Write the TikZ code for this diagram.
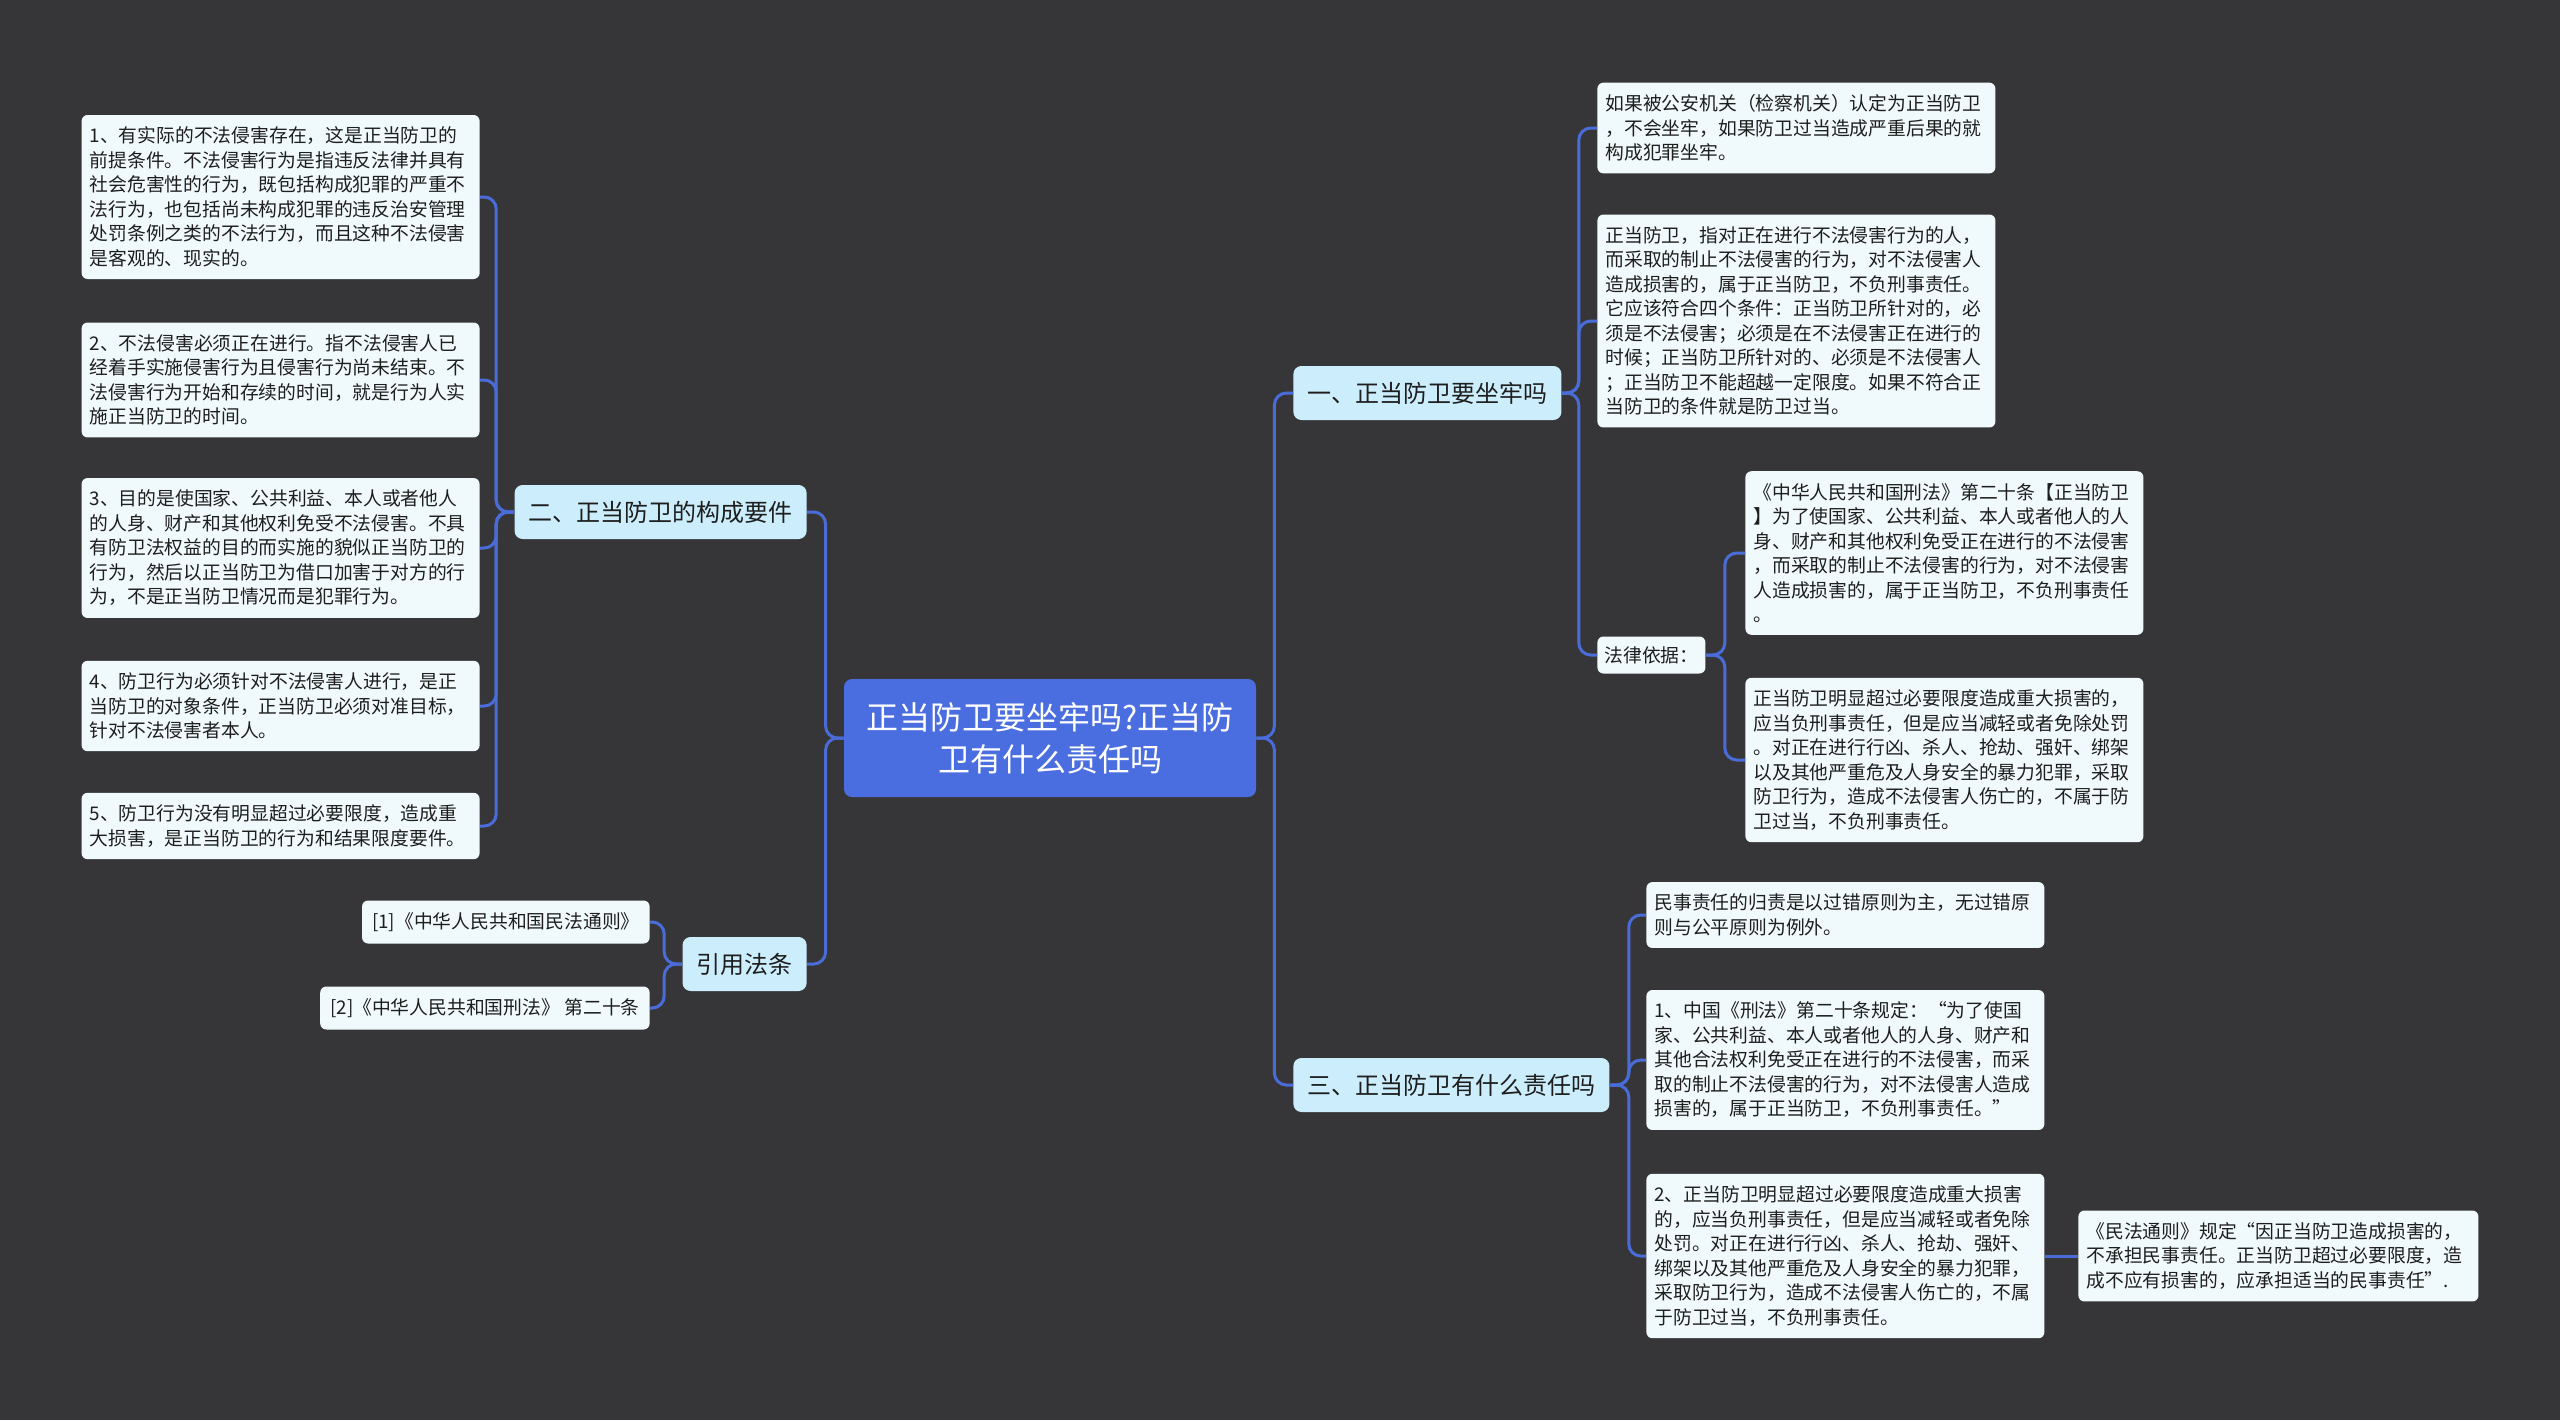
\documentclass[tikz,border=0pt]{standalone}
\usepackage{fontspec}
\setmainfont{Noto Sans CJK SC}
\usetikzlibrary{calc}
\definecolor{bgc}{HTML}{363638}
\definecolor{rootc}{HTML}{4A6EE0}
\definecolor{branchc}{HTML}{CCEEFC}
\definecolor{leafc}{HTML}{F0FAFD}
\definecolor{linec}{HTML}{4A6CD8}
\definecolor{txtc}{HTML}{1E1E1E}
\begin{document}
\begin{tikzpicture}[x=0.5pt,y=-0.5pt,
  rootbox/.style={fill=rootc, rounded corners=4pt, text=white, align=center,
    font=\fontsize{16}{21}\selectfont, minimum width=206pt, minimum height=59pt, inner sep=4pt},
  branchbox/.style={fill=branchc, rounded corners=4pt, text=txtc,
    font=\fontsize{12}{15}\selectfont, minimum height=27pt, inner xsep=7pt, inner ysep=3pt},
  leafbox/.style={fill=leafc, rounded corners=3pt, text=txtc, align=left, text width=191pt,
    font=\fontsize{9.4}{12.25}\selectfont, inner xsep=4pt, inner ysep=6pt},
  citebox/.style={fill=leafc, rounded corners=3pt, text=txtc,
    font=\fontsize{9.4}{12.25}\selectfont, inner xsep=5pt, minimum height=21.5pt},
  conn/.style={draw=linec, line width=1.5pt, rounded corners=6pt},
]
\fill[bgc] (0,0) rectangle (2560,1420);
\useasboundingbox (0,0) rectangle (2560,1420);

% root
\node[rootbox] (root) at (1050,738) {正当防卫要坐牢吗?正当防\\卫有什么责任吗};

% main branches
\node[branchbox, anchor=west] (b1) at (1293,393) {一、正当防卫要坐牢吗};
\node[branchbox, anchor=west] (b3) at (1293,1085) {三、正当防卫有什么责任吗};
\node[branchbox, anchor=east] (b2) at (807,512) {二、正当防卫的构成要件};
\node[branchbox, anchor=east] (b4) at (807,964) {引用法条};

% left leaves
\node[leafbox, anchor=east] (l1) at (480,197) {1、有实际的不法侵害存在，这是正当防卫的\\前提条件。不法侵害行为是指违反法律并具有\\社会危害性的行为，既包括构成犯罪的严重不\\法行为，也包括尚未构成犯罪的违反治安管理\\处罚条例之类的不法行为，而且这种不法侵害\\是客观的、现实的。};
\node[leafbox, anchor=east] (l2) at (480,380) {2、不法侵害必须正在进行。指不法侵害人已\\经着手实施侵害行为且侵害行为尚未结束。不\\法侵害行为开始和存续的时间，就是行为人实\\施正当防卫的时间。};
\node[leafbox, anchor=east] (l3) at (480,548) {3、目的是使国家、公共利益、本人或者他人\\的人身、财产和其他权利免受不法侵害。不具\\有防卫法权益的目的而实施的貌似正当防卫的\\行为，然后以正当防卫为借口加害于对方的行\\为，不是正当防卫情况而是犯罪行为。};
\node[leafbox, anchor=east] (l4) at (480,706) {4、防卫行为必须针对不法侵害人进行，是正\\当防卫的对象条件，正当防卫必须对准目标，\\针对不法侵害者本人。};
\node[leafbox, anchor=east] (l5) at (480,826) {5、防卫行为没有明显超过必要限度，造成重\\大损害，是正当防卫的行为和结果限度要件。};

\node[citebox, anchor=east] (c1) at (650,922) {[1]《中华人民共和国民法通则》};
\node[citebox, anchor=east] (c2) at (650,1008) {[2]《中华人民共和国刑法》 第二十条};

% right leaves of b1
\node[leafbox, anchor=west] (r1) at (1597,128) {如果被公安机关（检察机关）认定为正当防卫\\，不会坐牢，如果防卫过当造成严重后果的就\\构成犯罪坐牢。};
\node[leafbox, anchor=west] (r2) at (1597,321) {正当防卫，指对正在进行不法侵害行为的人，\\而采取的制止不法侵害的行为，对不法侵害人\\造成损害的，属于正当防卫，不负刑事责任。\\它应该符合四个条件：正当防卫所针对的，必\\须是不法侵害；必须是在不法侵害正在进行的\\时候；正当防卫所针对的、必须是不法侵害人\\；正当防卫不能超越一定限度。如果不符合正\\当防卫的条件就是防卫过当。};
\node[citebox, anchor=west, minimum height=18.5pt, inner xsep=3.5pt] (law) at (1597,655) {法律依据：};
\node[leafbox, anchor=west] (r3) at (1745,553) {《中华人民共和国刑法》第二十条【正当防卫\\】为了使国家、公共利益、本人或者他人的人\\身、财产和其他权利免受正在进行的不法侵害\\，而采取的制止不法侵害的行为，对不法侵害\\人造成损害的，属于正当防卫，不负刑事责任\\。};
\node[leafbox, anchor=west] (r4) at (1745,760) {正当防卫明显超过必要限度造成重大损害的，\\应当负刑事责任，但是应当减轻或者免除处罚\\。对正在进行行凶、杀人、抢劫、强奸、绑架\\以及其他严重危及人身安全的暴力犯罪，采取\\防卫行为，造成不法侵害人伤亡的，不属于防\\卫过当，不负刑事责任。};

% right leaves of b3
\node[leafbox, anchor=west] (s1) at (1646,915) {民事责任的归责是以过错原则为主，无过错原\\则与公平原则为例外。};
\node[leafbox, anchor=west] (s2) at (1646,1060) {1、中国《刑法》第二十条规定：“为了使国\\家、公共利益、本人或者他人的人身、财产和\\其他合法权利免受正在进行的不法侵害，而采\\取的制止不法侵害的行为，对不法侵害人造成\\损害的，属于正当防卫，不负刑事责任。”};
\node[leafbox, anchor=west] (s3) at (1646,1256) {2、正当防卫明显超过必要限度造成重大损害\\的，应当负刑事责任，但是应当减轻或者免除\\处罚。对正在进行行凶、杀人、抢劫、强奸、\\绑架以及其他严重危及人身安全的暴力犯罪，\\采取防卫行为，造成不法侵害人伤亡的，不属\\于防卫过当，不负刑事责任。};
\node[leafbox, anchor=west, text width=192pt] (s4) at (2078,1256) {《民法通则》规定“因正当防卫造成损害的，\\不承担民事责任。正当防卫超过必要限度，造\\成不应有损害的，应承担适当的民事责任”.};

% connectors
\foreach \c in {b2,b4} \draw[conn] (root.west) -- ++(-18,0) |- (\c.east);
\foreach \c in {b1,b3} \draw[conn] (root.east) -- ++(18,0) |- (\c.west);
\foreach \c in {l1,l2,l3,l4,l5} \draw[conn] (b2.west) -- ++(-18,0) |- (\c.east);
\foreach \c in {c1,c2} \draw[conn] (b4.west) -- ++(-18,0) |- (\c.east);
\foreach \c in {r1,r2,law} \draw[conn] (b1.east) -- ++(17,0) |- (\c.west);
\foreach \c in {r3,r4} \draw[conn] (law.east) -- ++(19,0) |- (\c.west);
\foreach \c in {s1,s2,s3} \draw[conn] (b3.east) -- ++(19,0) |- (\c.west);
\draw[conn] (s3.east) -- (s4.west);
\end{tikzpicture}
\end{document}
